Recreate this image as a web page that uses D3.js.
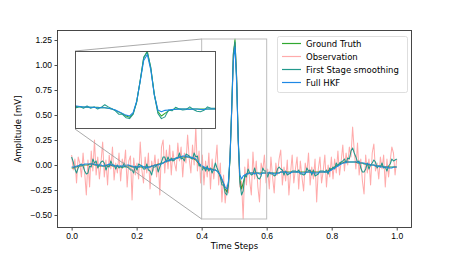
<!DOCTYPE html>
<html>
<head>
<meta charset="utf-8">
<script src="https://cdn.jsdelivr.net/npm/d3@7.9.0/dist/d3.min.js"></script>
<style>
  html, body { margin: 0; padding: 0; background: #fff; }
  svg { display: block; font-family: "DejaVu Sans", sans-serif; }
  .tick text { font-size: 8.5px; fill: #000; }
  .tick line { stroke: #222; stroke-width: 0.8; }
</style>
</head>
<body>
<svg id="chart" width="457" height="257"></svg>
<script>
// 200 samples between 0 and 1
const timeSteps = d3.range(200).map(i => i / 199);

const groundTruth = [
  -0.03,-0.03,-0.02,-0.02,-0.01,-0.01,-0.01,0.00,0.00,0.00,
  0.00,0.01,0.01,0.01,0.00,0.00,0.00,-0.01,-0.01,-0.01,
  -0.01,-0.01,0.00,0.00,0.00,-0.01,-0.01,-0.01,-0.01,-0.02,
  -0.02,-0.02,-0.02,-0.01,-0.01,-0.01,-0.01,-0.02,-0.02,-0.02,
  -0.02,-0.02,-0.02,-0.02,-0.02,-0.02,-0.02,-0.02,-0.02,-0.01,
  -0.01,0.00,0.00,0.01,0.01,0.02,0.02,0.03,0.04,0.04,
  0.05,0.05,0.06,0.06,0.07,0.07,0.08,0.08,0.08,0.08,
  0.08,0.08,0.08,0.07,0.07,0.06,0.05,0.03,0.01,-0.01,
  -0.02,-0.03,-0.03,-0.04,-0.04,-0.04,-0.04,-0.05,-0.05,-0.06,
  -0.08,-0.11,-0.15,-0.19,-0.24,-0.27,-0.19,0.08,0.58,1.10,
  1.26,0.86,0.26,-0.14,-0.24,-0.18,-0.12,-0.09,-0.08,-0.08,
  -0.08,-0.08,-0.08,-0.08,-0.08,-0.08,-0.08,-0.08,-0.08,-0.08,
  -0.08,-0.08,-0.08,-0.08,-0.08,-0.08,-0.08,-0.08,-0.07,-0.07,
  -0.07,-0.07,-0.07,-0.07,-0.07,-0.07,-0.07,-0.07,-0.07,-0.07,
  -0.07,-0.07,-0.07,-0.07,-0.07,-0.07,-0.07,-0.07,-0.07,-0.07,
  -0.07,-0.07,-0.07,-0.07,-0.07,-0.07,-0.07,-0.06,-0.05,-0.04,
  -0.03,-0.02,-0.01,0.00,0.01,0.02,0.02,0.03,0.03,0.03,
  0.03,0.03,0.03,0.03,0.03,0.02,0.02,0.02,0.02,0.01,
  0.01,0.01,0.00,0.00,0.00,0.00,-0.01,-0.01,-0.01,-0.01,
  -0.01,-0.02,-0.02,-0.02,-0.02,-0.02,-0.02,-0.02,-0.02,-0.02
];

const observation = [
  0.10,-0.05,0.06,-0.18,0.08,0.02,-0.12,0.12,-0.08,-0.30,
  0.05,-0.22,0.14,-0.06,0.25,-0.10,0.08,-0.14,0.03,0.23,
  -0.12,0.05,-0.20,0.10,-0.04,0.18,-0.15,0.02,-0.08,0.12,
  -0.16,0.06,-0.02,0.15,-0.22,0.04,0.09,-0.35,0.07,-0.10,
  0.02,-0.14,0.23,-0.05,-0.18,0.08,-0.08,0.12,-0.24,0.04,
  -0.06,0.10,-0.12,0.06,-0.30,0.18,0.25,-0.08,0.15,-0.04,
  0.20,-0.10,0.14,0.02,-0.06,0.22,0.04,0.18,-0.12,0.12,
  0.02,0.30,0.06,-0.08,0.20,0.00,0.38,-0.06,0.14,-0.18,
  0.10,-0.20,0.04,-0.12,0.12,-0.24,0.06,-0.14,0.02,0.20,
  -0.20,0.02,-0.37,-0.10,-0.38,-0.20,-0.28,0.14,0.52,1.12,
  1.22,0.90,0.20,-0.22,-0.16,-0.54,-0.02,-0.20,0.06,-0.16,
  -0.30,0.13,-0.14,0.04,-0.22,-0.37,0.02,-0.06,0.10,-0.18,
  -0.04,-0.24,0.08,-0.12,-0.28,0.02,-0.10,0.06,0.15,-0.20,
  -0.02,-0.16,0.05,-0.30,-0.08,0.10,-0.18,-0.04,0.08,-0.24,
  0.04,-0.12,-0.26,0.02,-0.08,0.12,-0.20,-0.02,-0.14,0.06,
  -0.37,-0.04,0.08,-0.18,-0.06,0.10,-0.22,0.00,-0.12,0.08,
  -0.14,0.06,-0.08,0.14,-0.10,0.04,0.20,-0.06,0.12,0.00,
  0.18,0.08,0.38,0.14,-0.04,0.22,-0.10,0.06,-0.16,-0.29,
  0.10,-0.08,0.06,-0.20,0.12,0.21,-0.06,0.02,-0.14,0.08,
  -0.04,0.10,-0.22,0.06,-0.12,0.04,0.18,0.12,-0.10,0.06
];

const firstStage = [
  0.08,0.03,-0.04,-0.08,-0.03,0.00,0.01,-0.01,-0.06,-0.09,
  -0.08,-0.01,-0.02,0.06,0.02,0.04,-0.03,0.00,0.03,0.04,
  0.02,-0.05,-0.01,-0.02,0.04,0.00,0.00,-0.04,0.00,-0.03,
  -0.01,-0.03,0.02,-0.02,-0.02,-0.03,-0.05,-0.05,-0.08,-0.01,
  -0.05,0.01,0.00,-0.01,-0.04,-0.04,0.01,-0.05,-0.06,-0.10,
  -0.02,-0.02,0.00,-0.07,-0.02,0.03,0.08,0.08,0.03,0.08,
  0.04,0.07,0.04,0.05,0.07,0.07,0.12,0.06,0.07,0.04,
  0.11,0.10,0.09,0.07,0.06,0.12,0.08,0.09,-0.01,0.00,
  -0.05,-0.02,-0.06,-0.01,-0.06,-0.03,-0.08,-0.04,0.02,-0.03,
  -0.07,-0.12,-0.20,-0.20,-0.28,-0.30,-0.20,0.08,0.57,1.12,
  1.23,0.88,0.24,-0.18,-0.30,-0.26,-0.10,-0.12,-0.04,-0.08,
  -0.10,-0.09,-0.03,-0.09,-0.13,-0.14,-0.11,-0.03,-0.06,-0.06,
  -0.12,-0.07,-0.09,-0.09,-0.11,-0.10,-0.04,-0.02,-0.04,-0.05,
  -0.10,-0.06,-0.10,-0.09,-0.08,-0.06,-0.06,-0.06,-0.07,-0.05,
  -0.09,-0.09,-0.10,-0.09,-0.03,-0.06,-0.05,-0.10,-0.05,-0.11,
  -0.10,-0.09,-0.06,-0.06,-0.06,-0.07,-0.05,-0.09,-0.03,-0.05,
  -0.02,-0.04,0.02,-0.01,0.02,0.03,0.04,0.06,0.02,0.07,
  0.06,0.14,0.17,0.12,0.08,0.03,0.04,-0.03,-0.07,-0.07,
  -0.04,0.02,-0.04,0.00,0.02,0.05,0.03,-0.03,-0.01,-0.02,
  0.02,-0.03,-0.02,-0.06,-0.01,0.01,0.06,0.04,0.05,0.06
];

const fullHKF = [
  -0.02,-0.02,-0.02,-0.01,-0.01,0.00,0.00,0.00,0.01,0.01,
  0.01,0.01,0.01,0.01,0.01,0.00,0.00,0.00,0.00,-0.01,
  -0.01,0.00,0.00,0.01,0.00,0.00,-0.01,-0.01,-0.01,-0.01,
  -0.01,-0.01,-0.01,-0.01,0.00,0.00,-0.01,-0.01,-0.02,-0.02,
  -0.02,-0.02,-0.01,-0.01,-0.02,-0.02,-0.03,-0.02,-0.02,-0.01,
  -0.01,0.00,0.00,0.00,0.01,0.01,0.02,0.03,0.04,0.04,
  0.05,0.05,0.06,0.06,0.07,0.07,0.08,0.08,0.09,0.09,
  0.09,0.08,0.08,0.08,0.07,0.07,0.06,0.04,0.02,0.00,
  -0.01,-0.02,-0.03,-0.03,-0.04,-0.04,-0.05,-0.05,-0.05,-0.06,
  -0.08,-0.10,-0.14,-0.18,-0.22,-0.24,-0.16,0.10,0.56,1.04,
  1.18,0.82,0.24,-0.10,-0.14,-0.11,-0.10,-0.09,-0.09,-0.08,
  -0.08,-0.08,-0.09,-0.08,-0.08,-0.09,-0.09,-0.08,-0.08,-0.08,
  -0.08,-0.08,-0.08,-0.08,-0.09,-0.09,-0.08,-0.08,-0.07,-0.07,
  -0.07,-0.07,-0.08,-0.08,-0.08,-0.07,-0.07,-0.07,-0.07,-0.07,
  -0.08,-0.08,-0.08,-0.08,-0.07,-0.07,-0.07,-0.08,-0.08,-0.08,
  -0.08,-0.08,-0.07,-0.07,-0.07,-0.07,-0.07,-0.07,-0.06,-0.05,
  -0.04,-0.03,-0.02,-0.01,0.00,0.01,0.02,0.02,0.03,0.03,
  0.03,0.03,0.03,0.03,0.03,0.03,0.02,0.02,0.02,0.02,
  0.01,0.01,0.01,0.00,0.00,0.00,-0.01,-0.01,-0.01,-0.02,
  -0.02,-0.02,-0.02,-0.02,-0.03,-0.03,-0.03,-0.02,-0.02,-0.02
];

const xTicks = [0.0, 0.2, 0.4, 0.6, 0.8, 1.0];
const yTicks = [-0.50, -0.25, 0.00, 0.25, 0.50, 0.75, 1.00, 1.25];
const zoomX = [0.4, 0.6];
const zoomY = [-0.54, 1.26];

const seriesList = [
  { name: 'Ground Truth', values: groundTruth, color: '#30a830', opacity: 1, inset: true },
  { name: 'Observation', values: observation, color: '#ff0000', opacity: 0.33, inset: false },
  { name: 'First Stage smoothing', values: firstStage, color: '#22998c', opacity: 1, inset: true },
  { name: 'Full HKF', values: fullHKF, color: '#1e88e5', opacity: 1, inset: true }
];

const svg = d3.select('#chart');
const plot = { left: 57, right: 412, top: 30, bottom: 228 };

const x = d3.scaleLinear().domain([-0.045, 1.047]).range([plot.left, plot.right]);
const y = d3.scaleLinear().domain([-0.63, 1.35]).range([plot.bottom, plot.top]);

const minus = s => s.replace('-', '\u2212');

svg.append('defs').append('clipPath').attr('id', 'mainClip')
  .append('rect')
  .attr('x', plot.left).attr('y', plot.top)
  .attr('width', plot.right - plot.left).attr('height', plot.bottom - plot.top);

function drawSeries(g, xs, ys, list) {
  const line = d3.line().x((d, i) => xs(timeSteps[i])).y(d => ys(d));
  list.forEach(s => {
    g.append('path')
      .datum(s.values)
      .attr('d', line)
      .attr('fill', 'none')
      .attr('stroke', s.color)
      .attr('stroke-opacity', s.opacity)
      .attr('stroke-width', 1.05)
      .attr('stroke-linejoin', 'round');
  });
}

const mainLines = svg.append('g').attr('clip-path', 'url(#mainClip)');
drawSeries(mainLines, x, y, seriesList);

// axes
svg.append('g')
  .attr('transform', `translate(0,${plot.bottom})`)
  .call(d3.axisBottom(x).tickValues(xTicks).tickSize(2.5).tickPadding(2.5).tickFormat(d3.format('.1f')))
  .call(g => g.select('.domain').remove());

svg.append('g')
  .attr('transform', `translate(${plot.left},0)`)
  .call(d3.axisLeft(y).tickValues(yTicks).tickSize(2.5).tickPadding(2.5).tickFormat(d => minus(d3.format('.2f')(d))))
  .call(g => g.select('.domain').remove());

svg.append('rect')
  .attr('x', plot.left + 0.5).attr('y', plot.top + 0.5)
  .attr('width', plot.right - plot.left - 1).attr('height', plot.bottom - plot.top - 1)
  .attr('fill', 'none').attr('stroke', '#333').attr('stroke-width', 0.9);

svg.append('text')
  .attr('x', (plot.left + plot.right) / 2).attr('y', 249)
  .attr('text-anchor', 'middle').attr('font-size', 8.5)
  .text('Time Steps');

svg.append('text')
  .attr('transform', `translate(21,${(plot.top + plot.bottom) / 2}) rotate(-90)`)
  .attr('text-anchor', 'middle').attr('font-size', 8.5)
  .text('Amplitude [mV]');

// zoom indicator
const inset = { left: 75, right: 216, top: 51, bottom: 129 };
const rx0 = x(zoomX[0]), rx1 = x(zoomX[1]);
const ry0 = y(zoomY[1]), ry1 = y(zoomY[0]);

svg.append('rect')
  .attr('x', rx0).attr('y', ry0)
  .attr('width', rx1 - rx0).attr('height', ry1 - ry0)
  .attr('fill', 'none').attr('stroke', '#bdbdbd').attr('stroke-width', 1);

svg.append('line')
  .attr('x1', inset.left).attr('y1', inset.top).attr('x2', rx0).attr('y2', ry0)
  .attr('stroke', '#a0a0a0').attr('stroke-width', 0.9);
svg.append('line')
  .attr('x1', inset.left).attr('y1', inset.bottom).attr('x2', rx0).attr('y2', ry1)
  .attr('stroke', '#a0a0a0').attr('stroke-width', 0.9);

// inset
const xi = d3.scaleLinear().domain(zoomX).range([inset.left, inset.right]);
const yi = d3.scaleLinear().domain(zoomY).range([inset.bottom, inset.top]);

svg.select('defs').append('clipPath').attr('id', 'insetClip')
  .append('rect')
  .attr('x', inset.left).attr('y', inset.top)
  .attr('width', inset.right - inset.left).attr('height', inset.bottom - inset.top);

svg.append('rect')
  .attr('x', inset.left).attr('y', inset.top)
  .attr('width', inset.right - inset.left).attr('height', inset.bottom - inset.top)
  .attr('fill', '#fff');

const insetLines = svg.append('g').attr('clip-path', 'url(#insetClip)');
drawSeries(insetLines, xi, yi, seriesList.filter(s => s.inset));

svg.append('rect')
  .attr('x', inset.left + 0.5).attr('y', inset.top + 0.5)
  .attr('width', inset.right - inset.left - 1).attr('height', inset.bottom - inset.top - 1)
  .attr('fill', 'none').attr('stroke', '#444').attr('stroke-width', 0.9);

// legend
const legend = svg.append('g');
legend.append('rect')
  .attr('x', 277.5).attr('y', 36.5).attr('width', 130).attr('height', 56)
  .attr('rx', 2).attr('fill', '#fff').attr('fill-opacity', 0.8)
  .attr('stroke', '#d6d6d6').attr('stroke-width', 0.8);

seriesList.forEach((s, i) => {
  const ly = 43.5 + i * 13;
  legend.append('line')
    .attr('x1', 282).attr('x2', 301).attr('y1', ly).attr('y2', ly)
    .attr('stroke', s.color).attr('stroke-opacity', s.opacity).attr('stroke-width', 1.2);
  legend.append('text')
    .attr('x', 306).attr('y', ly + 3)
    .attr('font-size', 8.5)
    .text(s.name);
});
</script>
</body>
</html>
